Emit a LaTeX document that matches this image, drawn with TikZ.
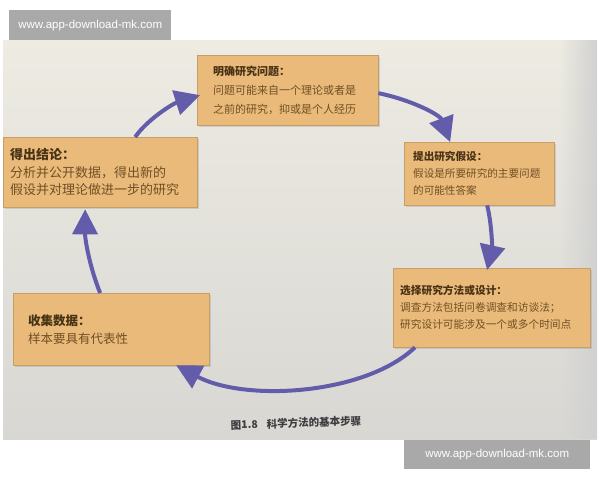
\documentclass[tikz,border=0pt]{standalone}
\usepackage{fontspec}
\newfontfamily\cjk{Noto Sans CJK SC}
\newfontfamily\wmfont{Liberation Sans}
\usetikzlibrary{arrows.meta,shadows,fadings}
\definecolor{boxc}{RGB}{233,186,122}
\definecolor{arrowc}{RGB}{98,92,170}
\definecolor{headc}{RGB}{72,50,22}
\definecolor{bodyc}{RGB}{112,80,36}
\definecolor{wmc}{RGB}{169,169,169}
\definecolor{bgtop}{RGB}{237,235,226}
\definecolor{bgbot}{RGB}{216,215,211}
\definecolor{capc}{RGB}{60,60,62}
\tikzfading[name=fadeleft, left color=transparent!100, right color=transparent!0]
\begin{document}
\begin{tikzpicture}[x=1pt,y=-1pt,
  box/.style={fill=boxc, draw=boxc!85!black, line width=0.3pt, anchor=north west,
    align=left, inner ysep=0pt, text=bodyc,
    drop shadow={opacity=0.25, shadow xshift=1.5pt, shadow yshift=-1.5pt}},
  flow/.style={draw=arrowc, line width=4pt, -{Triangle[length=25pt,width=25pt]}},
  wm/.style={fill=wmc, text=white, font=\wmfont\fontsize{11.5}{13}\selectfont,
    inner sep=0pt, anchor=north west}]
\useasboundingbox (0,0) rectangle (600,480);
\fill[white] (0,0) rectangle (600,480);
\shade[top color=bgtop, bottom color=bgbot] (3,40) rectangle (597,439);
\fill[black!18, path fading=fadeleft] (560,40) rectangle (597,439);

\node[box, minimum height=70pt, text width=149pt, inner xsep=16pt,
  font=\cjk\fontsize{11}{19}\selectfont] (top) at (197,55)
  {\textbf{\textcolor{headc}{明确研究问题：}}\\问题可能来自一个理论或者是\\之前的研究，抑或是个人经历};
\node[box, minimum height=63pt, text width=132pt, inner xsep=9pt,
  font=\cjk\fontsize{10.6}{17}\selectfont] (hyp) at (404,142)
  {\textbf{\textcolor{headc}{提出研究假设：}}\\假设是所要研究的主要问题\\的可能性答案};
\node[box, minimum height=79pt, text width=183pt, inner xsep=7pt,
  font=\cjk\fontsize{10.7}{17}\selectfont] (design) at (393,268)
  {\textbf{\textcolor{headc}{选择研究方法或设计：}}\\调查方法包括问卷调查和访谈法；\\研究设计可能涉及一个或多个时间点};
\node[box, minimum height=70pt, text width=180pt, inner xsep=7pt,
  font=\cjk\fontsize{13}{17.5}\selectfont] (concl) at (3,137)
  {\textbf{\textcolor{headc}{得出结论：}}\\分析并公开数据，得出新的\\假设并对理论做进一步的研究};
\node[box, minimum height=72pt, text width=166pt, inner xsep=15pt,
  font=\cjk\fontsize{12.5}{18}\selectfont] (collect) at (13,293)
  {\textbf{\textcolor{headc}{收集数据：}}\\样本要具有代表性};

\draw[flow] ([xshift=35pt]concl.north) .. controls (147,120) and (172,104) .. ([xshift=3pt,yshift=-5pt]top.west);
\draw[flow] ([yshift=-3pt]top.east) .. controls (412,100) and (440,115) .. ([xshift=-29pt]hyp.north);
\draw[flow] ([xshift=8pt]hyp.south) .. controls (492,225) and (492,248) .. ([xshift=-4.5pt,yshift=-2pt]design.north);
\draw[flow] ([xshift=22pt]design.south west) .. controls (365,395) and (245,402) .. ([xshift=65pt]collect.south);
\draw[flow] ([xshift=-11pt]collect.north) .. controls (90,268) and (85,240) .. ([xshift=-15pt,yshift=-2pt]concl.south);

\node[font=\cjk\bfseries\fontsize{10.5}{12}\selectfont, text=capc, rotate=2] (cap) at (296,423)
  {图1.8\hspace{9pt}科学方法的基本步骤};

\node[wm, minimum width=162pt, minimum height=30pt] (wm1) at (9,10) {www.app-download-mk.com};
\node[wm, minimum width=186pt, minimum height=29pt] (wm2) at (404,440) {www.app-download-mk.com};
\end{tikzpicture}
\end{document}
